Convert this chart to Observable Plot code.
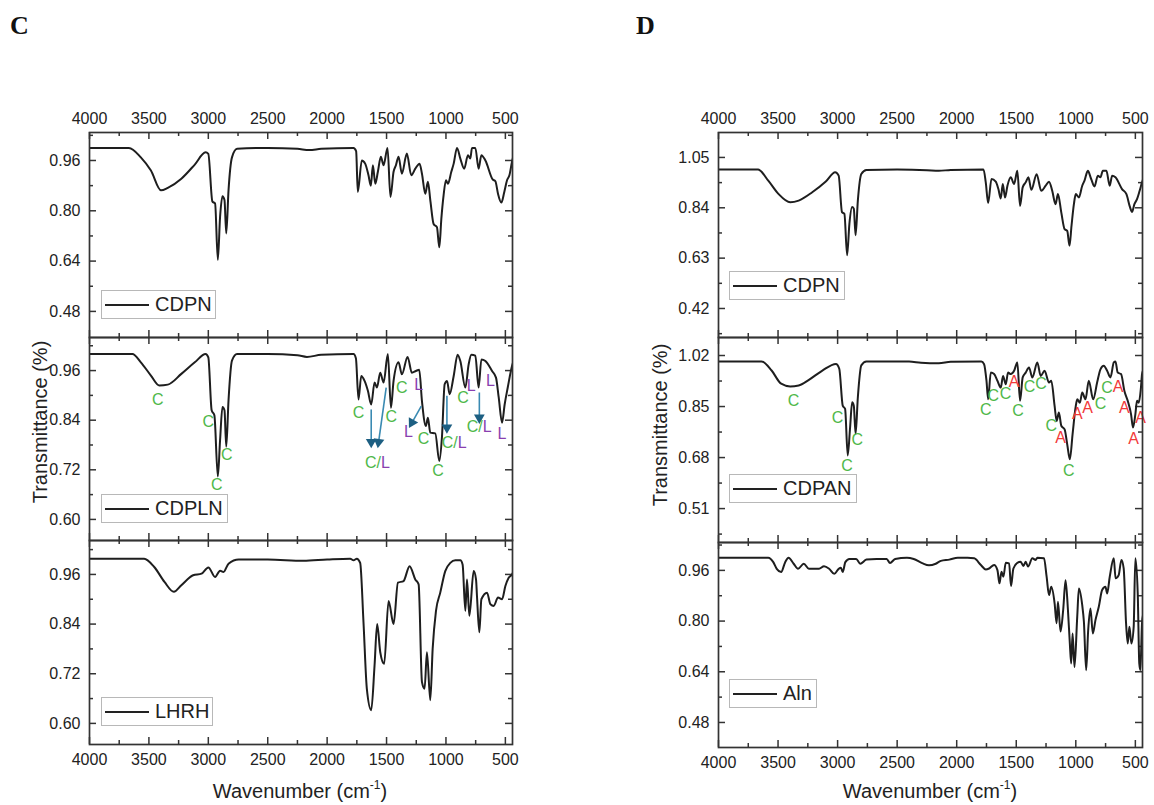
<!DOCTYPE html>
<html>
<head>
<meta charset="utf-8">
<script src="https://cdn.jsdelivr.net/npm/d3@7"></script>
<script src="https://cdn.jsdelivr.net/npm/@observablehq/plot@0.6"></script>
<style>
  html, body { margin: 0; padding: 0; background: #fff; }
  #root { position: relative; width: 1154px; height: 805px; overflow: hidden; background: #fff;
          font-family: "Liberation Sans", Arial, sans-serif; color: #222; }
  .lbl { position: absolute; white-space: nowrap; }
  .leg { position: absolute; box-sizing: border-box; border: 1.5px solid #b8b8b8; height: 29px; background: #fff; }
  .leg .ln { position: absolute; left: 3px; width: 44px; top: 13px; border-top: 2px solid #222; }
  .leg .tx { position: absolute; left: 53px; top: 0; line-height: 27px; font-size: 20px; color: #222; }
</style>
</head>
<body>
<div id="root"></div>
<script>
// ---------------- DATA ----------------
const xMajor = [4000, 3500, 3000, 2500, 2000, 1500, 1000, 500];
const xMinor = [3750, 3250, 2750, 2250, 1750, 1250, 750];

// Panel C — CDPN  [wavenumber, transmittance]
const cdpnC = [[4000,1.00],[3668,1.00],[3568,0.97],[3483,0.928],[3398,0.865],[3341,0.873],[3227,0.902],[3114,0.947],[3023,0.986],[3000,0.981],[2966,0.83],[2943,0.823],[2920,0.644],[2901,0.781],[2881,0.846],[2864,0.834],[2849,0.728],[2830,0.865],[2801,0.97],[2758,0.997],[2500,1.00],[2250,0.997],[2150,0.993],[2050,0.997],[1778,1.00],[1756,0.99],[1742,0.86],[1708,0.96],[1680,0.95],[1652,0.913],[1632,0.88],[1615,0.945],[1595,0.886],[1573,0.924],[1548,0.972],[1525,0.945],[1492,1.00],[1467,0.844],[1441,0.924],[1421,0.945],[1399,0.972],[1371,0.918],[1329,0.982],[1292,0.913],[1258,0.934],[1222,0.95],[1202,0.918],[1174,0.854],[1152,0.892],[1130,0.828],[1104,0.758],[1076,0.748],[1056,0.684],[1039,0.774],[1020,0.849],[1000,0.897],[983,0.886],[955,0.924],[935,0.95],[907,1.00],[879,0.966],[846,0.934],[815,0.977],[795,0.966],[781,1.00],[753,1.00],[725,0.934],[702,0.977],[668,0.96],[607,0.90],[584,0.894],[562,0.854],[534,0.826],[509,0.86],[486,0.897],[466,0.913],[444,0.956],[435,0.97]];

// Panel C — CDPLN
const cdplnC = [[4000,1.00],[3639,1.00],[3568,0.98],[3483,0.948],[3412,0.924],[3341,0.926],[3227,0.952],[3114,0.98],[3023,1.00],[3000,0.992],[2972,0.864],[2949,0.852],[2920,0.704],[2901,0.792],[2881,0.872],[2864,0.864],[2849,0.776],[2830,0.888],[2801,0.984],[2758,1.00],[2500,1.00],[2250,0.997],[2170,0.993],[2050,0.998],[1778,1.00],[1758,0.99],[1736,0.89],[1713,0.947],[1685,0.935],[1657,0.911],[1629,0.878],[1601,0.931],[1581,0.919],[1553,0.955],[1525,0.931],[1489,1.00],[1463,0.87],[1441,0.935],[1399,0.98],[1371,0.951],[1323,0.993],[1287,0.955],[1253,0.959],[1225,0.962],[1202,0.886],[1169,0.826],[1152,0.846],[1132,0.81],[1090,0.808],[1056,0.741],[1034,0.798],[1011,0.927],[991,0.935],[969,0.903],[935,0.947],[902,0.998],[879,0.983],[837,0.919],[809,0.975],[786,0.998],[753,0.996],[725,0.919],[702,0.987],[668,0.983],[612,0.959],[579,0.943],[556,0.895],[528,0.834],[506,0.878],[480,0.919],[444,0.971],[435,0.98]];

// Panel C — LHRH
const lhrhC = [[4000,0.998],[3540,0.998],[3455,0.978],[3369,0.942],[3290,0.918],[3227,0.934],[3128,0.958],[3057,0.962],[3000,0.977],[2943,0.954],[2901,0.969],[2872,0.966],[2830,0.986],[2744,0.996],[2500,0.996],[2200,0.993],[2000,0.996],[1806,0.998],[1778,0.994],[1750,0.998],[1722,0.988],[1694,0.844],[1666,0.684],[1629,0.632],[1601,0.74],[1579,0.84],[1553,0.772],[1520,0.744],[1483,0.896],[1441,0.84],[1404,0.94],[1357,0.944],[1306,0.98],[1258,0.948],[1230,0.936],[1202,0.70],[1180,0.684],[1160,0.772],[1132,0.656],[1112,0.78],[1084,0.872],[1048,0.916],[1006,0.968],[963,0.988],[921,0.994],[879,0.994],[860,0.984],[837,0.872],[823,0.948],[803,0.86],[767,0.968],[747,0.948],[739,0.908],[719,0.82],[702,0.90],[654,0.916],[626,0.888],[598,0.884],[562,0.904],[528,0.90],[500,0.932],[472,0.952],[444,0.96],[435,0.965]];

// Panel D — CDPN
const cdpnD = [[4000,1.00],[3668,1.00],[3582,0.953],[3497,0.898],[3398,0.863],[3327,0.87],[3213,0.905],[3099,0.95],[3020,0.988],[2991,0.974],[2963,0.822],[2943,0.815],[2920,0.642],[2901,0.773],[2878,0.843],[2864,0.836],[2849,0.725],[2830,0.87],[2801,0.981],[2758,0.998],[2500,1.00],[2250,0.997],[2150,0.994],[2050,0.998],[1775,1.00],[1756,0.946],[1736,0.86],[1708,0.96],[1672,0.949],[1650,0.918],[1630,0.879],[1613,0.939],[1594,0.883],[1574,0.932],[1546,0.967],[1518,0.939],[1491,0.994],[1468,0.848],[1446,0.925],[1421,0.946],[1398,0.967],[1373,0.915],[1329,0.98],[1290,0.911],[1253,0.932],[1225,0.949],[1198,0.911],[1170,0.855],[1150,0.897],[1122,0.821],[1094,0.751],[1072,0.744],[1053,0.682],[1036,0.765],[1016,0.855],[1000,0.897],[974,0.883],[946,0.932],[927,0.953],[899,0.994],[871,0.96],[843,0.929],[815,0.974],[793,0.967],[773,0.994],[743,0.994],[715,0.932],[695,0.974],[667,0.967],[612,0.918],[575,0.897],[547,0.846],[528,0.823],[508,0.855],[486,0.876],[464,0.911],[444,0.946],[435,0.96]];

// Panel D — CDPAN
const cdpanD = [[4000,1.00],[3639,1.00],[3554,0.97],[3474,0.926],[3398,0.917],[3327,0.92],[3241,0.939],[3128,0.97],[3014,0.992],[2986,0.976],[2957,0.853],[2937,0.842],[2915,0.687],[2895,0.781],[2878,0.864],[2864,0.853],[2849,0.759],[2830,0.881],[2801,0.987],[2758,1.00],[2400,1.00],[2300,0.996],[2150,0.994],[2050,0.999],[1793,1.00],[1770,0.991],[1750,0.936],[1736,0.874],[1714,0.963],[1686,0.958],[1658,0.936],[1630,0.913],[1611,0.952],[1588,0.924],[1569,0.963],[1546,0.958],[1518,0.969],[1491,0.997],[1468,0.869],[1446,0.947],[1421,0.963],[1393,0.98],[1365,0.947],[1323,0.997],[1295,0.952],[1262,0.969],[1225,0.93],[1206,0.936],[1178,0.852],[1161,0.802],[1142,0.83],[1122,0.786],[1094,0.774],[1072,0.724],[1050,0.674],[1027,0.758],[1002,0.847],[988,0.874],[966,0.863],[946,0.897],[919,0.874],[891,0.936],[854,0.874],[821,0.93],[793,0.974],[765,0.986],[737,0.969],[709,0.947],[681,0.997],[667,1.00],[648,0.963],[620,0.958],[592,0.902],[564,0.869],[536,0.824],[520,0.78],[500,0.824],[486,0.869],[472,0.863],[453,0.913],[444,0.958],[435,0.97]];

// Panel D — Aln
const alnD = [[4000,1.00],[3582,1.00],[3540,0.986],[3511,0.965],[3474,0.955],[3440,0.986],[3412,1.00],[3369,0.981],[3332,0.965],[3284,0.981],[3241,0.965],[3156,0.965],[3114,0.973],[3071,0.965],[3028,0.949],[2991,0.965],[2972,0.968],[2957,0.955],[2935,0.986],[2901,0.996],[2844,0.996],[2810,0.981],[2758,0.994],[2673,0.996],[2588,0.996],[2560,0.983],[2517,0.996],[2418,1.00],[2361,0.996],[2290,0.983],[2233,0.976],[2176,0.981],[2133,0.99],[2062,0.994],[1991,1.00],[1909,1.00],[1853,0.998],[1797,0.977],[1756,0.963],[1728,0.966],[1686,0.977],[1658,0.961],[1641,0.919],[1624,0.956],[1608,0.94],[1588,0.984],[1560,0.982],[1544,0.911],[1524,0.966],[1491,0.984],[1463,0.987],[1440,0.974],[1421,0.987],[1401,0.972],[1365,0.998],[1337,0.993],[1323,1.00],[1267,0.998],[1245,0.94],[1225,0.882],[1206,0.908],[1178,0.856],[1161,0.793],[1150,0.861],[1128,0.767],[1106,0.835],[1086,0.929],[1066,0.835],[1050,0.729],[1039,0.666],[1027,0.761],[1011,0.655],[988,0.814],[974,0.903],[946,0.85],[932,0.798],[913,0.645],[896,0.772],[877,0.84],[857,0.761],[835,0.803],[807,0.845],[779,0.898],[751,0.908],[737,0.887],[715,0.94],[681,0.998],[666,0.935],[640,0.945],[617,0.993],[598,0.966],[578,0.793],[564,0.729],[550,0.782],[533,0.729],[514,0.782],[500,0.998],[480,0.887],[467,0.666],[458,0.645],[444,0.793],[435,0.82]];

// Peak labels: [wavenumber, transmittance, text]
const cLabelsC = [[3426,0.888,"C"],[3000,0.836,"C"],[2844,0.756,"C"],[2929,0.684,"C"],[1736,0.858,"C"],[1461,0.848,"C"],[1371,0.917,"C"],[1188,0.794,"C"],[1067,0.717,"C"],[857,0.893,"C"]];
const lLabelsC = [[1230,0.925,"L"],[1315,0.811,"L"],[787,0.923,"L"],[626,0.935,"L"],[528,0.806,"L"]];
const clLabelsC = [[1581,0.737],[935,0.785],[725,0.823]];
// Arrows: [w1, t1, w2, t2]
const arrowsC = [[1629,0.866,1629,0.787],[1503,0.919,1567,0.787],[1208,0.874,1286,0.834],[992,0.899,992,0.822],[719,0.907,719,0.846]];

const cLabelsD = [[3369,0.868,"C"],[3000,0.812,"C"],[2835,0.739,"C"],[2920,0.653,"C"],[1756,0.838,"C"],[1692,0.884,"C"],[1590,0.893,"C"],[1485,0.836,"C"],[1388,0.914,"C"],[1292,0.924,"C"],[1206,0.786,"C"],[1058,0.636,"C"],[793,0.86,"C"],[737,0.911,"C"]];
const aLabelsD = [[1518,0.933,"A"],[1128,0.747,"A"],[988,0.827,"A"],[902,0.844,"A"],[645,0.916,"A"],[592,0.847,"A"],[514,0.741,"A"],[456,0.813,"A"]];

// ---------------- DRAW ----------------
const FONT = '"Liberation Sans", Arial, sans-serif';
const GREEN = "#4fb84a", PURPLE = "#8a3fb0", RED = "#f23a3a", TEAL = "#3a8ab2", TEAL_DARK = "#1d5f82";
const root = document.getElementById("root");
const f2 = d3.format(".2f");
const X_DOMAIN = [4000, 440];

function sub({x0, x1, y0, y1, series, yDomain, yMajor, yMinor, top = false, bottom = false, extra = () => []}) {
  const mL = 60, mR = 12, mT = top ? 40 : 4, mB = bottom ? 40 : 4;
  const iw = x1 - x0, ih = y1 - y0;
  const tk = {stroke: "#333", strokeWidth: 1.5};
  // pixel-per-unit ratios (used only to orient arrowheads)
  const kx = iw / (X_DOMAIN[1] - X_DOMAIN[0]);
  const ky = -ih / (yDomain[1] - yDomain[0]);
  const p = Plot.plot({
    width: mL + iw + mR, height: mT + ih + mB,
    marginLeft: mL, marginRight: mR, marginTop: mT, marginBottom: mB,
    style: {background: "transparent", overflow: "visible", fontFamily: FONT, fontSize: "16px", color: "#222"},
    x: {domain: X_DOMAIN, axis: null},
    y: {domain: yDomain, axis: null},
    marks: [
      top ? Plot.axisX(xMajor, {anchor: "top", tickSize: 0, tickPadding: 9, tickFormat: d => String(d), fontSize: 16}) : null,
      bottom ? Plot.axisX(xMajor, {anchor: "bottom", tickSize: 0, tickPadding: 9, tickFormat: d => String(d), fontSize: 16}) : null,
      Plot.axisY(yMajor, {anchor: "left", tickSize: 0, tickPadding: 9, tickFormat: f2, fontSize: 16}),
      Plot.tickX(xMajor, {x: d => d, insetBottom: ih - 7, ...tk}),
      Plot.tickX(xMajor, {x: d => d, insetTop: ih - 7, ...tk}),
      Plot.tickX(xMinor, {x: d => d, insetBottom: ih - 4, ...tk}),
      Plot.tickX(xMinor, {x: d => d, insetTop: ih - 4, ...tk}),
      Plot.tickY(yMajor, {y: d => d, insetRight: iw - 7, ...tk}),
      Plot.tickY(yMajor, {y: d => d, insetLeft: iw - 7, ...tk}),
      Plot.tickY(yMinor, {y: d => d, insetRight: iw - 4, ...tk}),
      Plot.tickY(yMinor, {y: d => d, insetLeft: iw - 4, ...tk}),
      Plot.lineY(series, {x: d => d[0], y: d => d[1], stroke: "#1e1e1e", strokeWidth: 2, curve: "monotone-x", clip: true}),
      ...extra(kx, ky),
      Plot.frame({stroke: "#333", strokeWidth: 1.7})
    ]
  });
  p.style.position = "absolute";
  p.style.left = (x0 - mL) + "px";
  p.style.top = (y0 - mT) + "px";
  root.appendChild(p);
}

function txt(data, fill) {
  return Plot.text(data, {x: d => d[0], y: d => d[1], text: d => d[2], fill, fontSize: 16, fontFamily: FONT});
}

// ---- Panel C ----
sub({x0: 89, x1: 512, y0: 132, y1: 337, series: cdpnC, yDomain: [0.397, 1.049],
     yMajor: [0.48, 0.64, 0.80, 0.96], yMinor: [0.56, 0.72, 0.88, 1.04], top: true});
sub({x0: 89, x1: 512, y0: 337, y1: 540, series: cdplnC, yDomain: [0.549, 1.040],
     yMajor: [0.60, 0.72, 0.84, 0.96], yMinor: [0.66, 0.78, 0.90, 1.02],
     extra: (kx, ky) => [
       Plot.link(arrowsC, {x1: d => d[0], y1: d => d[1], x2: d => d[2], y2: d => d[3], stroke: TEAL, strokeWidth: 1.6}),
       Plot.dot(arrowsC, {x: d => d[2], y: d => d[3], symbol: "triangle", r: 4, fill: TEAL_DARK, stroke: "none",
         rotate: d => Math.atan2((d[2] - d[0]) * kx, -(d[3] - d[1]) * ky) * 180 / Math.PI}),
       txt(cLabelsC, GREEN),
       txt(lLabelsC, PURPLE),
       Plot.text(clLabelsC, {x: d => d[0], y: d => d[1], text: () => "C/", textAnchor: "end", dx: 4, fill: GREEN, fontSize: 16, fontFamily: FONT}),
       Plot.text(clLabelsC, {x: d => d[0], y: d => d[1], text: () => "L", textAnchor: "start", dx: 4, fill: PURPLE, fontSize: 16, fontFamily: FONT})
     ]});
sub({x0: 89, x1: 512, y0: 540, y1: 744, series: lhrhC, yDomain: [0.549, 1.042],
     yMajor: [0.60, 0.72, 0.84, 0.96], yMinor: [0.66, 0.78, 0.90, 1.02], bottom: true});

// ---- Panel D ----
sub({x0: 718, x1: 1142, y0: 132, y1: 337, series: cdpnD, yDomain: [0.299, 1.154],
     yMajor: [0.42, 0.63, 0.84, 1.05], yMinor: [0.315, 0.525, 0.735, 0.945], top: true});
sub({x0: 718, x1: 1142, y0: 337, y1: 542, series: cdpanD, yDomain: [0.397, 1.080],
     yMajor: [0.51, 0.68, 0.85, 1.02], yMinor: [0.425, 0.595, 0.765, 0.935],
     extra: () => [txt(cLabelsD, GREEN), txt(aLabelsD, RED)]});
sub({x0: 718, x1: 1142, y0: 542, y1: 747, series: alnD, yDomain: [0.401, 1.048],
     yMajor: [0.48, 0.64, 0.80, 0.96], yMinor: [0.56, 0.72, 0.88, 1.04], bottom: true});

// ---- Legends, titles, panel letters ----
function legend(x, yc, w, label) {
  const b = document.createElement("div");
  b.className = "leg";
  b.style.left = x + "px"; b.style.top = (yc - 14.5) + "px"; b.style.width = w + "px";
  b.innerHTML = `<div class="ln"></div><div class="tx">${label}</div>`;
  root.appendChild(b);
}
legend(101, 304, 115, "CDPN");
legend(101, 508, 127, "CDPLN");
legend(101, 711, 112, "LHRH");
legend(729, 285, 116, "CDPN");
legend(729, 488, 128, "CDPAN");
legend(729, 693, 88, "Aln");

function label(html, cx, cy, size, extra = "") {
  const d = document.createElement("div");
  d.className = "lbl";
  d.style.left = cx + "px"; d.style.top = cy + "px";
  d.style.fontSize = size + "px";
  d.style.transform = "translate(-50%, -50%) " + extra;
  d.innerHTML = html;
  root.appendChild(d);
}
const xt = 'Wavenumber (cm<sup style="font-size:0.6em;vertical-align:0.7em;line-height:0">-1</sup>)';
label(xt, 300, 791, 20);
label(xt, 930, 791, 20);
label("Transmittance (%)", 40, 422, 20, "rotate(-90deg)");
label("Transmittance (%)", 660, 425, 20, "rotate(-90deg)");

function letter(t, x, y) {
  const d = document.createElement("div");
  d.className = "lbl";
  d.style.left = x + "px"; d.style.top = y + "px";
  d.style.font = 'bold 26px "Liberation Serif", "Times New Roman", serif';
  d.style.color = "#111";
  d.textContent = t;
  root.appendChild(d);
}
letter("C", 10, 11);
letter("D", 636, 11);
</script>
</body>
</html>
